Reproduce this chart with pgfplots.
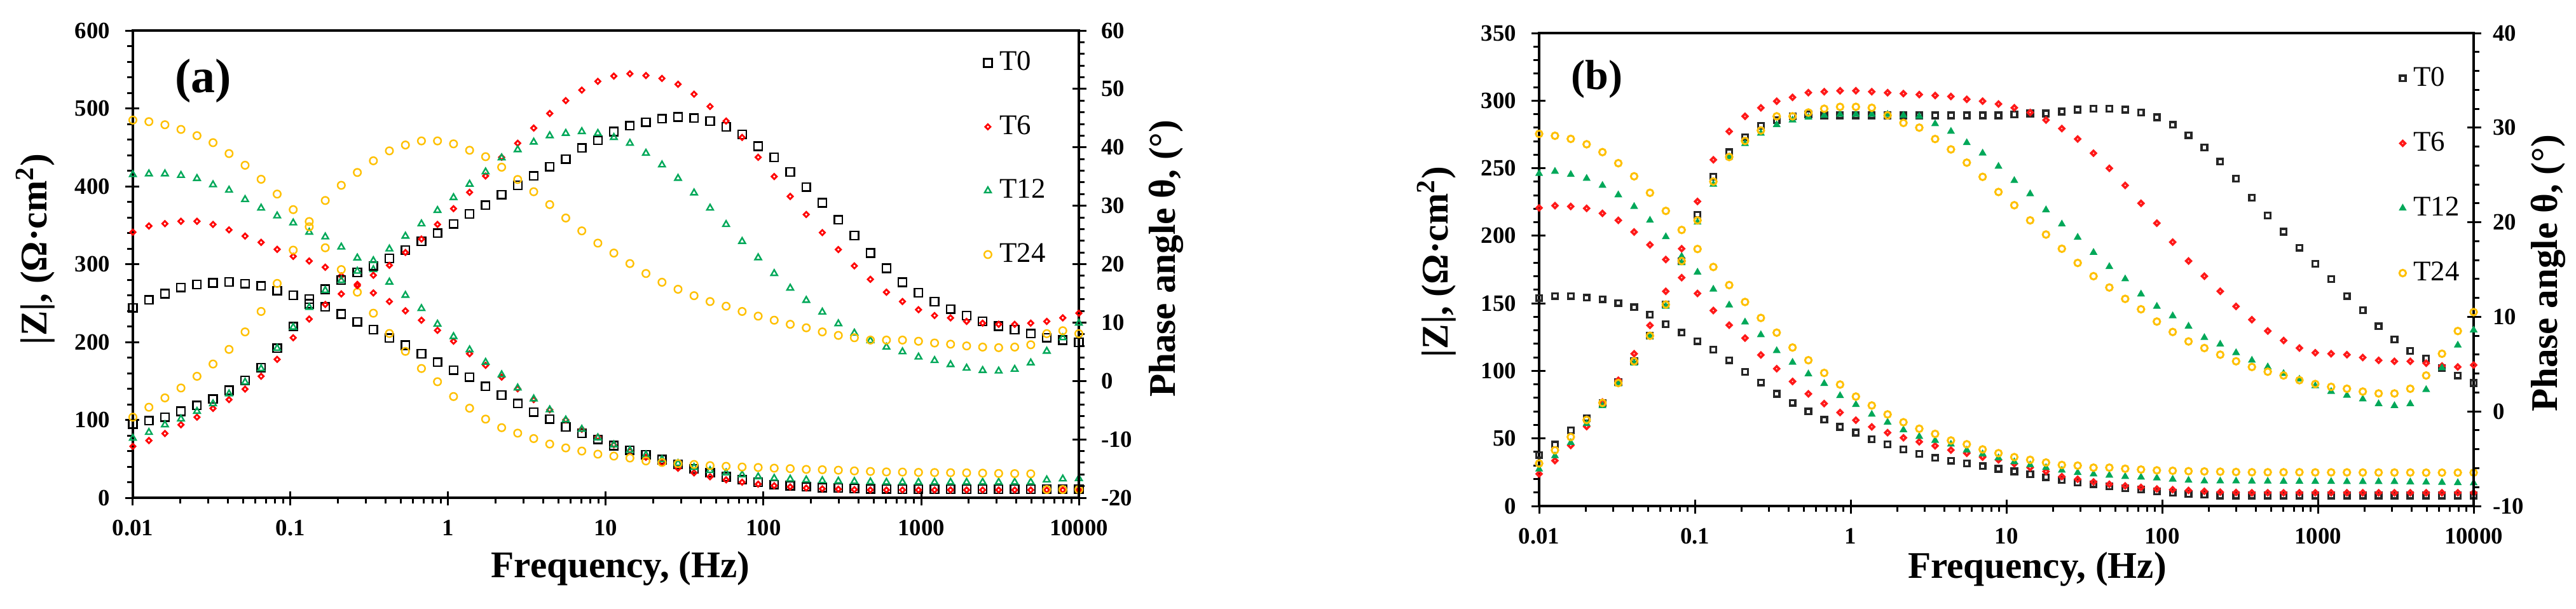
\documentclass[border=0pt]{standalone}
\usepackage{fontspec}
\setmainfont{Liberation Serif}
\usepackage{pgfplots}
\usepackage{pgfplotstable}
\pgfplotsset{compat=1.18}

\definecolor{cT0}{RGB}{0,0,0}
\definecolor{cT6}{RGB}{255,0,0}
\definecolor{cT12}{RGB}{0,168,89}
\definecolor{cT24}{RGB}{255,192,0}

\newcommand\ticksize{\fontsize{9.2}{11}\selectfont\bfseries}
\newcommand\labsize{\fontsize{14.8}{17}\selectfont\bfseries}
\newcommand\legsize{\fontsize{11.2}{13}\selectfont}

% panel (a): |Z| (Ohm cm2) and phase (deg) vs frequency (Hz)
\pgfplotstableread{
f Z0 Z6 Z12 Z24 P0 P6 P12 P24
0.01 244 341 415 485 -7.4 -11.2 -9.8 -6.2
0.01264 254 349 416 483 -6.8 -10.2 -8.8 -4.5
0.01597 262 352 416 479 -6.2 -9.0 -7.5 -2.9
0.02019 270 355 414 473 -5.2 -7.5 -6.5 -1.2
0.02551 274 355 410 465 -4.2 -6.2 -5.2 0.8
0.03224 276 351 402 456 -3.1 -4.7 -3.9 2.9
0.04074 277 344 395 442 -1.6 -3.2 -2.2 5.4
0.05149 275 336 383 427 0.1 -1.4 -0.2 8.4
0.06509 272 328 372 409 2.3 0.8 2.1 11.9
0.08227 266 319 362 390 5.6 3.7 5.6 16.7
0.1040 260 310 353 370 9.3 7.4 9.2 22.4
0.1314 255 304 341 348 13.2 10.6 12.6 27.3
0.1661 245 296 335 321 15.7 13.1 15.5 30.9
0.2099 236 285 322 293 17.3 14.9 17.2 33.5
0.2653 226 274 308 264 18.6 16.3 18.8 35.7
0.3353 216 263 293 237 19.7 18.1 20.6 37.7
0.4237 205 252 277 211 21.0 19.8 22.6 39.4
0.5355 196 240 260 188 22.4 22.0 24.8 40.4
0.6767 185 228 243 166 23.9 24.3 26.9 41.1
0.8554 174 215 223 149 25.3 26.8 29.2 41.1
1.081 164 201 207 130 26.9 29.5 31.4 40.6
1.367 155 185 190 115 28.6 32.3 33.7 39.5
1.727 143 170 174 101 30.1 35.1 35.8 38.4
2.183 132 155 158 90 31.9 38.3 38.2 36.6
2.759 121 140 141 83 33.5 40.7 39.6 34.5
3.487 110 126 127 76 35.1 43.3 40.9 32.4
4.406 101 113 113 69 36.7 45.8 42.0 30.2
5.569 91 100 100 64 38.0 48.0 42.4 27.9
7.038 83 88 88 60 39.9 49.8 42.7 25.7
8.896 75 78 77 56 41.2 51.3 42.4 23.6
11.24 67 68 68 53.5 42.7 52.2 41.7 21.9
14.21 61 60 61 51 43.7 52.6 40.7 20.1
17.96 55 52 55 47.3 44.3 52.3 39.0 18.4
22.70 49 45 49 45.3 44.9 51.8 37.0 16.9
28.69 43 38 44 43.8 45.2 50.8 34.7 15.7
36.26 37 32 39 42.8 45.0 49.1 32.2 14.6
45.81 32 27 35 41.3 44.5 47.0 29.6 13.6
57.90 27 23 32 40.4 43.5 44.5 26.8 12.8
73.17 23 20 29.5 39.5 42.2 41.7 23.9 11.9
92.49 20 17.5 27 38.9 40.2 38.3 21.1 11.1
116.9 17 15.5 25 38 38.3 35.0 18.4 10.4
147.7 15.5 14 24 37.4 35.8 31.6 15.9 9.7
186.7 14 12.5 23 36.4 33.2 28.5 13.8 9.1
236.0 13 11.5 22 36 30.5 25.4 11.8 8.4
298.3 12.5 11 21.5 35.4 27.6 22.5 9.8 7.8
377.0 12 10.5 21 34.5 24.9 19.7 8.2 7.4
476.4 11.5 10 20.5 33.8 21.9 17.4 6.9 7.0
602.1 11.2 10 20 33.2 19.3 15.2 5.8 7.0
761.0 11 10 20 33 16.9 13.6 5.0 7.0
961.8 11 10 20 32.6 15.1 12.2 4.1 6.8
1216 11 10 20 32.4 13.6 11.2 3.5 6.5
1536 11 10 20 32.2 12.3 10.8 2.8 6.3
1942 11 10 20 32 11.2 10.2 2.2 6.0
2454 11 10 20 31.6 10.2 9.9 1.8 5.8
3101 11 10 20 31.2 9.4 9.7 1.7 5.7
3919 11 10 20 31 8.8 9.7 2.0 5.8
4954 11 10 20 30.8 8.1 9.9 3.1 6.2
6260 11 10 23 10.6 7.4 10.2 5.1 8.1
7912 11 10 24.2 10.6 7.0 10.8 7.4 8.6
10000 11 10 24.7 10.6 6.6 11.6 9.9 8.1
}\tabA

% panel (b)
\pgfplotstableread{
f Z0 Z6 Z12 Z24 P0 P6 P12 P24
0.01 154 220.6 246 275.4 -4.6 -6.6 -6.1 -5.5
0.01264 155.4 222.3 247.6 274 -3.5 -5.2 -4.7 -4.1
0.01597 155.4 221.7 245.3 271.7 -2.0 -3.6 -3.3 -2.7
0.02019 154.2 220.3 242.4 267.7 -0.7 -1.6 -1.3 -0.9
0.02551 153 216.6 237.2 261.9 0.9 1.0 0.6 0.9
0.03224 150.2 211.4 230.2 253.7 3.1 3.3 2.9 3.0
0.04074 147.1 202.8 221.6 244 5.3 6.1 5.1 5.3
0.05149 141.6 193.3 211.4 231.8 8.0 9.1 7.9 8.0
0.06509 134.5 182.4 199.2 218.4 11.3 12.7 11.1 11.3
0.08227 128.3 169 184.7 204.3 15.9 17.2 15.7 15.9
0.1040 122 157.3 173 190.2 20.8 22.2 20.0 20.2
0.1314 115.7 144.7 160.4 176.9 24.8 26.6 24.0 24.3
0.1661 107.9 133.8 148.7 163.5 27.4 29.6 26.9 26.9
0.2099 99.3 124.3 136.1 151 29.0 31.2 28.3 28.6
0.2653 91.4 111.8 126.7 139.2 30.2 32.1 29.4 29.7
0.3353 83 101.6 114.9 128.3 30.8 32.8 30.3 31.2
0.4237 76.4 92.2 106.3 117.3 31.2 33.2 30.8 31.2
0.5355 70 83 97.7 107.9 31.4 33.7 31.1 31.6
0.6767 63.8 75.8 90.6 98.5 31.3 33.8 31.3 32.0
0.8554 58.6 69.2 81.6 89.9 31.3 33.9 31.4 32.2
1.081 54.3 63.5 75 81 31.3 33.9 31.4 32.2
1.367 49.4 58.6 67.8 74.4 31.3 33.8 31.4 32.1
1.727 45.7 54.3 62 67.8 31.3 33.7 31.4 31.3
2.183 41.9 50.5 56.3 62 31.3 33.6 31.3 30.5
2.759 38.5 47.5 51.4 57.2 31.3 33.5 31.2 30.0
3.487 35.6 44.5 48.5 53.4 31.3 33.4 30.4 28.8
4.406 33.5 41.4 45.7 48.5 31.3 33.3 29.6 27.7
5.569 31.5 39.1 41.4 45.7 31.3 33.0 28.4 26.3
7.038 29.5 36.2 38.5 41.9 31.3 32.8 27.3 24.8
8.896 27.5 34.2 35.6 39.1 31.3 32.5 25.9 23.2
11.24 25.6 31.3 32.7 36.2 31.4 32.1 24.4 21.8
14.21 23.6 28.4 30.4 34.2 31.5 31.6 23.0 20.2
17.96 21.3 25.6 28.4 32.2 31.5 30.8 21.3 18.7
22.70 19.2 21.8 26.4 30.4 31.7 29.9 19.8 17.2
28.69 17.5 19.8 24.7 29.9 31.9 28.8 18.4 15.7
36.26 16.1 17.8 23.6 28.4 32.0 27.3 16.8 14.3
45.81 14.6 16.1 22.7 28.4 32.0 25.7 15.3 13.1
57.90 13.2 14.9 21.8 27.6 31.9 23.9 14.0 11.9
73.17 12.1 13.8 21.3 27 31.6 22.0 12.4 10.8
92.49 10.9 12.6 20.7 26.4 31.1 19.9 11.1 9.5
116.9 9.8 12.1 19.8 26.1 30.3 17.9 10.1 8.4
147.7 8.9 11.5 19 25.8 29.2 15.9 9.0 7.4
186.7 8.3 10.9 18.4 25.6 27.9 14.3 7.8 6.7
236.0 7.8 10.3 18.4 25.4 26.4 12.7 7.1 6.0
298.3 7.8 10 18.4 25.2 24.6 11.1 6.2 5.3
377.0 7.8 9.8 18.3 25 22.6 9.7 5.4 4.7
476.4 7.8 9.8 18.3 25 20.7 8.5 4.7 4.2
602.1 7.8 9.8 18.2 25 19.0 7.5 4.0 3.8
761.0 7.8 9.8 18.2 25 17.3 6.7 3.4 3.3
961.8 7.8 9.8 18.1 24.9 15.6 6.2 2.7 2.9
1216 7.8 9.8 18.1 24.9 14.0 6.1 2.1 2.6
1536 7.8 9.8 18 24.9 12.2 6.0 1.7 2.4
1942 7.8 9.8 18 24.8 10.7 5.7 1.3 2.1
2454 7.8 9.8 18 24.8 9.0 5.4 0.8 1.9
3101 7.8 9.8 18 24.8 7.6 5.3 0.6 1.9
3919 7.8 9.8 17.8 24.8 6.4 5.3 0.8 2.4
4954 7.8 9.8 17.6 24.7 5.6 5.1 2.3 3.8
6260 7.8 9.8 17.4 24.7 4.6 4.8 4.6 6.1
7912 7.8 9.8 17.2 24.7 3.8 4.7 7.0 8.5
10000 7.8 9.8 17 24.7 3.0 4.9 8.6 10.5
}\tabB

\pgfplotsset{
  every axis/.append style={
    scale only axis, anchor=south west, clip=false,
    xmode=log, xmin=0.01, xmax=10000,
    xtick={0.01,0.1,1,10,100,1000,10000},
    xticklabels={0.01,0.1,1,10,100,1000,10000},
    axis line style={line width=1pt},
    tick style={black, line width=0.75pt},
    tick align=outside, major tick length=3pt, minor tick length=2.2pt,
    tick label style={font=\ticksize},
    xticklabel style={yshift=-2.3pt},
  },
  % markers, panel (a)
  a0/.style={only marks, mark=square, mark size=1.6pt, color=cT0, mark options={line width=0.6pt}},
  a6/.style={only marks, mark=square, mark size=0.72pt, color=cT6, mark options={rotate=45, line width=0.7pt}},
  a12/.style={only marks, mark=triangle, mark size=1.45pt, color=cT12, mark options={line width=0.6pt}},
  a24/.style={only marks, mark=o, mark size=1.45pt, color=cT24, mark options={line width=0.6pt}},
  % markers, panel (b)
  b0/.style={only marks, mark=square, mark size=1.1pt, color=black!85, mark options={line width=0.85pt}},
  b6/.style={only marks, mark=square, mark size=0.68pt, color=cT6!90!white, mark options={rotate=45, line width=0.9pt}},
  b12/.style={only marks, mark=triangle*, mark size=1.5pt, color=cT12, mark options={line width=0.3pt, fill=cT12}},
  b24/.style={only marks, mark=o, mark size=1.3pt, color=cT24, mark options={line width=0.75pt}},
}

\begin{document}
\begin{tikzpicture}
\useasboundingbox (0,0) rectangle (1013pt,239.25pt);

% ---------- (a) ----------
\begin{axis}[
  at={(52.25pt,43.5pt)}, width=372pt, height=183.75pt,
  xtick pos=bottom, ytick pos=left,
  ymin=0, ymax=600,
  ytick={0,100,200,300,400,500,600},
  yticklabels={0,100,200,300,400,500,600},
  minor y tick num=4,
  extra x ticks={0.01,0.1,1,10,100,1000,10000}, extra x tick labels={},
  extra y ticks={0,100,200,300,400,500,600}, extra y tick labels={},
  extra tick style={tick align=inside, major tick length=2.5pt},
  yticklabel style={xshift=-2.5pt},
  xlabel={Frequency, (Hz)},
  ylabel={|Z|, (Ω·cm\textsuperscript{2})},
  every axis x label/.style={at={(axis description cs:0.5155,-0.152)}, anchor=center, font=\labsize},
  every axis y label/.style={at={(axis description cs:-0.1028,0.532)}, rotate=90, anchor=center, font=\labsize},
  legend cell align=left,
  legend style={draw=none, fill=none, inner sep=0pt, at={(axis description cs:0.899,0.967)},
    anchor=north west, font=\legsize, row sep=12.2pt, column sep=1pt},
]
\addplot[a0] table[x=f,y=Z0]{\tabA}; \addlegendentry{T0}
\addplot[a6] table[x=f,y=Z6]{\tabA}; \addlegendentry{T6}
\addplot[a12] table[x=f,y=Z12]{\tabA}; \addlegendentry{T12}
\addplot[a24] table[x=f,y=Z24]{\tabA}; \addlegendentry{T24}
\node[font=\fontsize{19}{20}\selectfont\bfseries] at (axis description cs:0.0746,0.8925) {(a)};
\end{axis}
\begin{axis}[
  at={(52.25pt,43.5pt)}, width=372pt, height=183.75pt,
  axis x line=none, axis y line*=right, ytick pos=right,
  ymin=-20, ymax=60,
  ytick={-20,-10,0,10,20,30,40,50,60},
  yticklabels={-20,-10,0,10,20,30,40,50,60},
  minor y tick num=4,
  extra y ticks={-20,-10,0,10,20,30,40,50,60}, extra y tick labels={},
  extra tick style={tick align=inside, major tick length=2.5pt},
  yticklabel style={xshift=2.25pt},
  ylabel={Phase angle θ, (°)},
  every axis y label/.style={at={(axis description cs:1.092,0.512)}, rotate=90, anchor=center, font=\labsize},
]
\addplot[a0] table[x=f,y=P0]{\tabA};
\addplot[a6] table[x=f,y=P6]{\tabA};
\addplot[a12] table[x=f,y=P12]{\tabA};
\addplot[a24] table[x=f,y=P24]{\tabA};
\end{axis}

% ---------- (b) ----------
\begin{axis}[
  at={(605.25pt,40.25pt)}, width=367.5pt, height=186pt,
  xtick pos=bottom, ytick pos=left,
  ymin=0, ymax=350,
  ytick={0,50,100,150,200,250,300,350},
  yticklabels={0,50,100,150,200,250,300,350},
  minor y tick num=4,
  extra x ticks={0.01,0.1,1,10,100,1000,10000}, extra x tick labels={},
  extra y ticks={0,50,100,150,200,250,300,350}, extra y tick labels={},
  extra tick style={tick align=inside, major tick length=2.5pt},
  yticklabel style={xshift=-2.5pt},
  xlabel={Frequency, (Hz)},
  ylabel={|Z|, (Ω·cm\textsuperscript{2})},
  every axis x label/.style={at={(axis description cs:0.533,-0.134)}, anchor=center, font=\labsize},
  every axis y label/.style={at={(axis description cs:-0.1095,0.516)}, rotate=90, anchor=center, font=\labsize},
  legend cell align=left,
  legend style={draw=none, fill=none, inner sep=0pt, at={(axis description cs:0.92,0.94)},
    anchor=north west, font=\legsize, row sep=12.6pt, column sep=1pt},
]
\addplot[b0] table[x=f,y=Z0]{\tabB}; \addlegendentry{T0}
\addplot[b6] table[x=f,y=Z6]{\tabB}; \addlegendentry{T6}
\addplot[b12] table[x=f,y=Z12]{\tabB}; \addlegendentry{T12}
\addplot[b24] table[x=f,y=Z24]{\tabB}; \addlegendentry{T24}
\node[font=\fontsize{16.5}{18}\selectfont\bfseries] at (axis description cs:0.062,0.903) {(b)};
\end{axis}
\begin{axis}[
  at={(605.25pt,40.25pt)}, width=367.5pt, height=186pt,
  axis x line=none, axis y line*=right, ytick pos=right,
  ymin=-10, ymax=40,
  ytick={-10,0,10,20,30,40},
  yticklabels={-10,0,10,20,30,40},
  minor y tick num=4,
  extra y ticks={-10,0,10,20,30,40}, extra y tick labels={},
  extra tick style={tick align=inside, major tick length=2.5pt},
  yticklabel style={xshift=1pt},
  ylabel={Phase angle θ, (°)},
  every axis y label/.style={at={(axis description cs:1.0796,0.492)}, rotate=90, anchor=center, font=\labsize},
]
\addplot[b0] table[x=f,y=P0]{\tabB};
\addplot[b6] table[x=f,y=P6]{\tabB};
\addplot[b12] table[x=f,y=P12]{\tabB};
\addplot[b24] table[x=f,y=P24]{\tabB};
\end{axis}
\end{tikzpicture}
\end{document}
